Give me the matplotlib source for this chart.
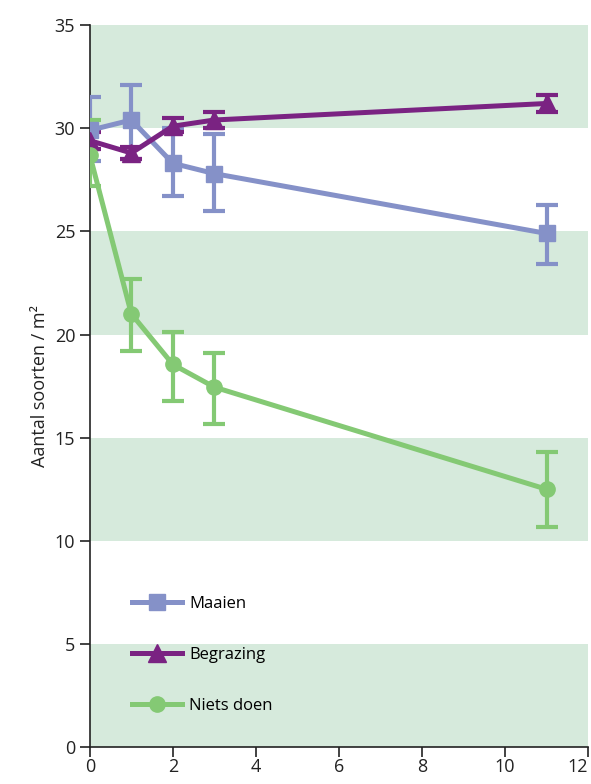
import matplotlib

matplotlib.use("Agg")
import matplotlib.pyplot as plt

plt.rcParams["font.family"] = ["Open Sans", "DejaVu Sans"]

# years since start of management
years = [0, 1, 2, 3, 11]

maaien = [29.9, 30.4, 28.3, 27.8, 24.9]
maaien_lo = [28.4, 28.5, 26.7, 26.0, 23.4]
maaien_hi = [31.5, 32.1, 30.0, 29.7, 26.3]

begrazing = [29.4, 28.8, 30.1, 30.4, 31.2]
begrazing_lo = [29.0, 28.5, 29.8, 30.0, 30.8]
begrazing_hi = [29.8, 29.1, 30.5, 30.8, 31.6]

niets = [28.7, 21.0, 18.55, 17.45, 12.5]
niets_lo = [27.2, 19.2, 16.8, 15.65, 10.65]
niets_hi = [30.4, 22.7, 20.1, 19.1, 14.3]

series = [
    ("Maaien", maaien, maaien_lo, maaien_hi, "#8591c8", "s", 11),
    ("Begrazing", begrazing, begrazing_lo, begrazing_hi, "#7a2382", "^", 13),
    ("Niets doen", niets, niets_lo, niets_hi, "#84c974", "o", 11),
]

bands = [(0, 5), (10, 15), (20, 25), (30, 35)]

fig = plt.figure(figsize=(5.91, 7.84), dpi=100)
ax = fig.add_axes([0.152, 0.047, 0.843, 0.921])

for low, high in bands:
    ax.axhspan(low, high, color="#d6eadc", zorder=0, linewidth=0)

for label, values, lo, hi, color, marker, size in series:
    err = [
        [v - l for v, l in zip(values, lo)],
        [h - v for v, h in zip(values, hi)],
    ]
    ax.errorbar(
        years,
        values,
        yerr=err,
        color=color,
        linewidth=3.6,
        elinewidth=3,
        capsize=8,
        capthick=3,
        marker=marker,
        markersize=size,
        label=label,
        zorder=3,
    )

ax.set_xlim(0, 12)
ax.set_ylim(0, 35)
ax.set_xticks(range(0, 13, 2))
ax.set_yticks(range(0, 36, 5))
ax.tick_params(labelsize=13, direction="out", length=7, width=1.2, colors="#222222")
ax.tick_params(axis="x", pad=1)
# the last label sits against the right edge of the figure
ax.get_xticklabels()[-1].set_horizontalalignment("right")
ax.set_ylabel("Aantal soorten / m²", fontsize=13, color="#222222")
for side in ("top", "right"):
    ax.spines[side].set_visible(False)
for side in ("left", "bottom"):
    ax.spines[side].set_linewidth(1.2)
    ax.spines[side].set_color("#222222")

handles, labels = ax.get_legend_handles_labels()
handles = [h[0] for h in handles]
ax.legend(
    handles,
    labels,
    loc="lower left",
    bbox_to_anchor=(0.055, 0.025),
    frameon=False,
    fontsize=12,
    handlelength=3.0,
    labelspacing=2.1,
    handletextpad=0.4,
)

fig.savefig("out.png", dpi=100)
